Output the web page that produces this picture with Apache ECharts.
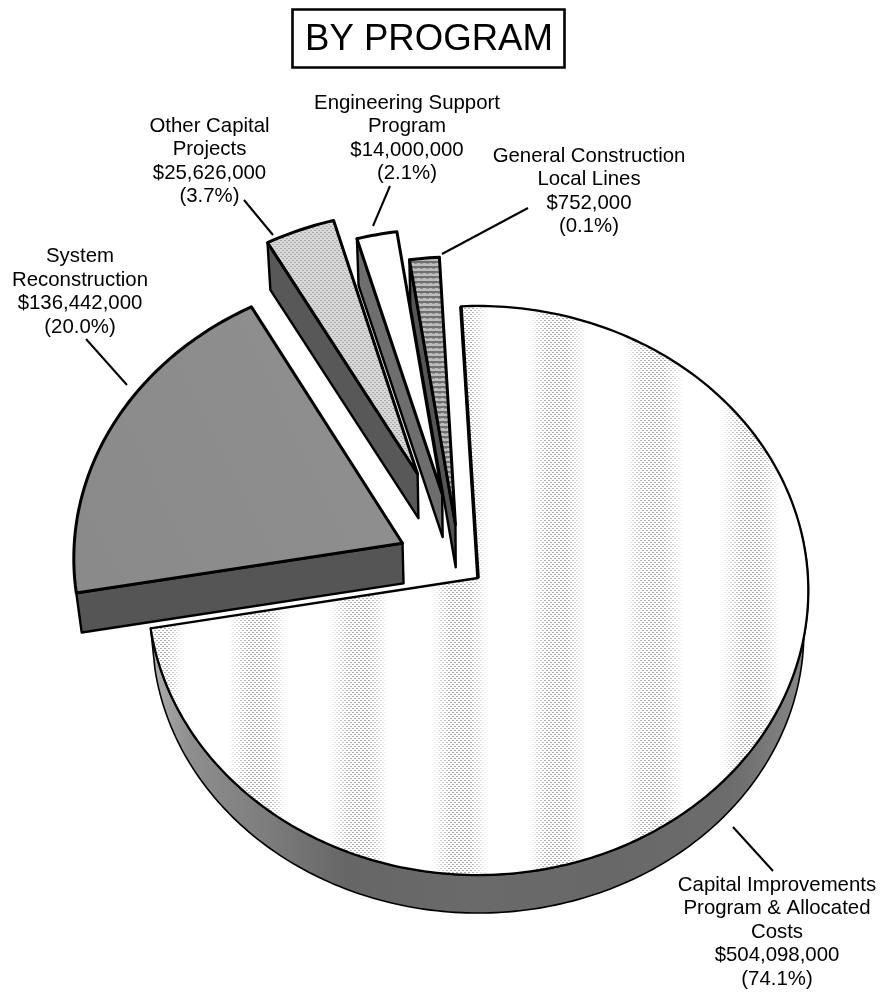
<!DOCTYPE html>
<html>
<head>
<meta charset="utf-8">
<style>html,body{margin:0;padding:0;background:#fff}#c{width:881px;height:992px}</style>
<script src="https://cdn.jsdelivr.net/npm/echarts@6/dist/echarts.min.js"></script>
</head>
<body>
<div id="c"></div>
<script>
// ---- data ----
const titleText = 'BY PROGRAM';
const programs = [
  'Capital Improvements\nProgram & Allocated\nCosts',
  'System\nReconstruction',
  'Other Capital\nProjects',
  'Engineering Support\nProgram',
  'General Construction\nLocal Lines'
];
const amounts = [504098000, 136442000, 25626000, 14000000, 752000];
const printedShares = ['74.1', '20.0', '3.7', '2.1', '0.1'];
// share of the circle each wedge actually occupies in the drawing (percent)
const drawnShares = [73.05, 19.72, 3.62, 2.08, 1.53];

// ---- layout and styling ----
const FONT = '"Liberation Sans", Arial, sans-serif';
const START_DEG = -3.1;
const PLANE = { cx: 478, cy: 578, rx: 330, ry: 284, k: 0.044 };
const DEPTH_F = 0.9865, DEPTH_CX = 478;
const DEPTH_DY = [49.8, 47.5, 50.5, 49.8, 49.8];
const OFFSETS = [[0, 0], [-0.23, 0.123], [-0.186, 0.372], [-0.11, 0.30], [-0.069, 0.19]];
const LABELS = [
  { x: 777, y: 932, line: [733, 827, 773, 871] },
  { x: 80, y: 292, line: [86, 339, 127, 385] },
  { x: 209.5, y: 161.5, line: [244, 200, 273, 235] },
  { x: 407, y: 138.5, line: [390, 186, 373, 226] },
  { x: 589, y: 191.5, line: [528, 208, 442, 254] }
];
const SIDE = ['#666', '#555', '#585858', '#6e6e6e', '#555'];

function makeCanvas(w, h) { const c = document.createElement('canvas'); c.width = w; c.height = h; return c; }

// halftone stripes on the big wedge
function stripeTexture() {
  const c = makeCanvas(881, 992), g = c.getContext('2d');
  g.fillStyle = '#fff'; g.fillRect(0, 0, 881, 992);
  const centers = [155, 257, 358, 459, 556, 653, 750, 848];
  for (let y = 0; y < 992; y += 2) {
    for (let x = (y / 2) % 2 ? 2 : 0; x < 881; x += 4) {
      let a = 0;
      centers.forEach(m => { const d = Math.abs(x - m); a = Math.max(a, d < 29 ? Math.min(1, (29 - d) / 18) : 0); });
      if (a > 0) { g.fillStyle = 'rgba(140,140,140,' + (0.72 * a).toFixed(3) + ')'; g.fillRect(x, y, 2, 1); }
    }
  }
  return c;
}
function dotTexture() {
  const c = makeCanvas(4, 4), g = c.getContext('2d');
  g.fillStyle = '#d8d8d8'; g.fillRect(0, 0, 4, 4);
  g.fillStyle = '#acacac'; g.fillRect(0, 0, 2, 1); g.fillRect(2, 2, 2, 1);
  return c;
}
function bandTexture() {
  const c = makeCanvas(6, 5), g = c.getContext('2d');
  g.fillStyle = '#bcbcbc'; g.fillRect(0, 0, 6, 5);
  g.fillStyle = '#707070'; g.fillRect(0, 1, 6, 2);
  g.fillStyle = '#909090'; g.fillRect(0, 3, 3, 1);
  return c;
}
const wallFill = new echarts.graphic.LinearGradient(150, 0, 810, 0, [
  { offset: 0, color: '#b0b0b0' }, { offset: 0.06, color: '#8e8e8e' }, { offset: 0.17, color: '#7e7e7e' },
  { offset: 0.3, color: '#666' }, { offset: 0.48, color: '#6a6a6a' }, { offset: 0.7, color: '#686868' },
  { offset: 0.88, color: '#6c6c6c' }, { offset: 1, color: '#888' }
], true);
const FILLS = [
  { image: stripeTexture(), repeat: 'repeat' },
  new echarts.graphic.LinearGradient(70, 560, 400, 400, [{ offset: 0, color: '#8a8a8a' }, { offset: 1, color: '#8f8f8f' }], true),
  { image: dotTexture(), repeat: 'repeat' },
  '#ffffff',
  { image: bandTexture(), repeat: 'repeat' }
];

// perspective projection of the pie's plane (unit circle) onto the page
function project(u, v) {
  const w = 1 + PLANE.k * v;
  return [PLANE.cx + PLANE.rx * u / w, PLANE.cy - PLANE.ry * v / w];
}
function lower(p, i) { return [DEPTH_CX + (p[0] - DEPTH_CX) * DEPTH_F, p[1] * DEPTH_F + DEPTH_DY[i]]; }
function rim(off, deg) {
  const t = deg * Math.PI / 180;
  return project(off[0] + Math.sin(t), off[1] + Math.cos(t));
}
function arc(off, a, b) {
  const n = Math.max(2, Math.ceil(Math.abs(b - a)));
  const pts = [];
  for (let i = 0; i <= n; i++) pts.push(rim(off, a + (b - a) * i / n));
  return pts;
}

const cumulative = [];
drawnShares.reduce((acc, s, i) => { cumulative[i] = acc; return acc + s; }, 0);
const fmt = n => '$' + n.toLocaleString('en-US');

function renderItem(params, api) {
  const i = params.dataIndex;
  const a0 = START_DEG + cumulative[i] * 3.6;
  const a1 = a0 + api.value(0) * 3.6;
  const off = OFFSETS[i];
  const apex = project(off[0], off[1]);
  const top = [apex].concat(arc(off, a0, a1));
  const children = [];
  const edge = { stroke: '#000', lineJoin: 'round' };

  if (i === 0) {
    const outer = arc(off, 80, a1);
    children.push({
      type: 'polygon',
      shape: { points: outer.concat(outer.map(p => lower(p, i)).reverse()) },
      style: Object.assign({ fill: wallFill, lineWidth: 1.6 }, edge)
    });
  } else {
    const r = rim(off, a0);
    children.push({
      type: 'polygon',
      shape: { points: [apex, r, lower(r, i), lower(apex, i)] },
      style: Object.assign({ fill: SIDE[i], lineWidth: 2.4 }, edge)
    });
  }
  children.push({
    type: 'polygon',
    shape: { points: top },
    style: Object.assign({ fill: FILLS[i], lineWidth: i === 0 ? 2.3 : 3 }, edge)
  });
  if (i === 0) {
    children.push({
      type: 'line',
      shape: { x1: apex[0], y1: apex[1], x2: top[1][0], y2: top[1][1] },
      style: { stroke: '#000', lineWidth: 3.6 }
    });
  }
  const lab = LABELS[i];
  children.push({
    type: 'line',
    shape: { x1: lab.line[0], y1: lab.line[1], x2: lab.line[2], y2: lab.line[3] },
    style: { stroke: '#000', lineWidth: 2 }
  });
  children.push({
    type: 'text',
    style: {
      x: lab.x, y: lab.y, align: 'center', verticalAlign: 'middle',
      text: programs[i] + '\n' + fmt(amounts[i]) + '\n(' + printedShares[i] + '%)',
      font: '20.4px ' + FONT, lineHeight: 23.5, fill: '#000'
    }
  });
  return { type: 'group', children };
}

const chart = echarts.init(document.getElementById('c'), null, { renderer: 'canvas' });
chart.setOption({
  animation: false,
  backgroundColor: '#fff',
  title: {
    text: titleText, left: 292, top: 9,
    padding: [12, 12, 10, 13],
    borderColor: '#000', borderWidth: 2.6,
    textStyle: { fontFamily: FONT, fontSize: 36.6, fontWeight: 'normal', color: '#000' }
  },
  series: [{
    type: 'custom',
    coordinateSystem: 'none',
    renderItem,
    silent: true,
    data: drawnShares.map(s => [s])
  }]
});
</script>
</body>
</html>
